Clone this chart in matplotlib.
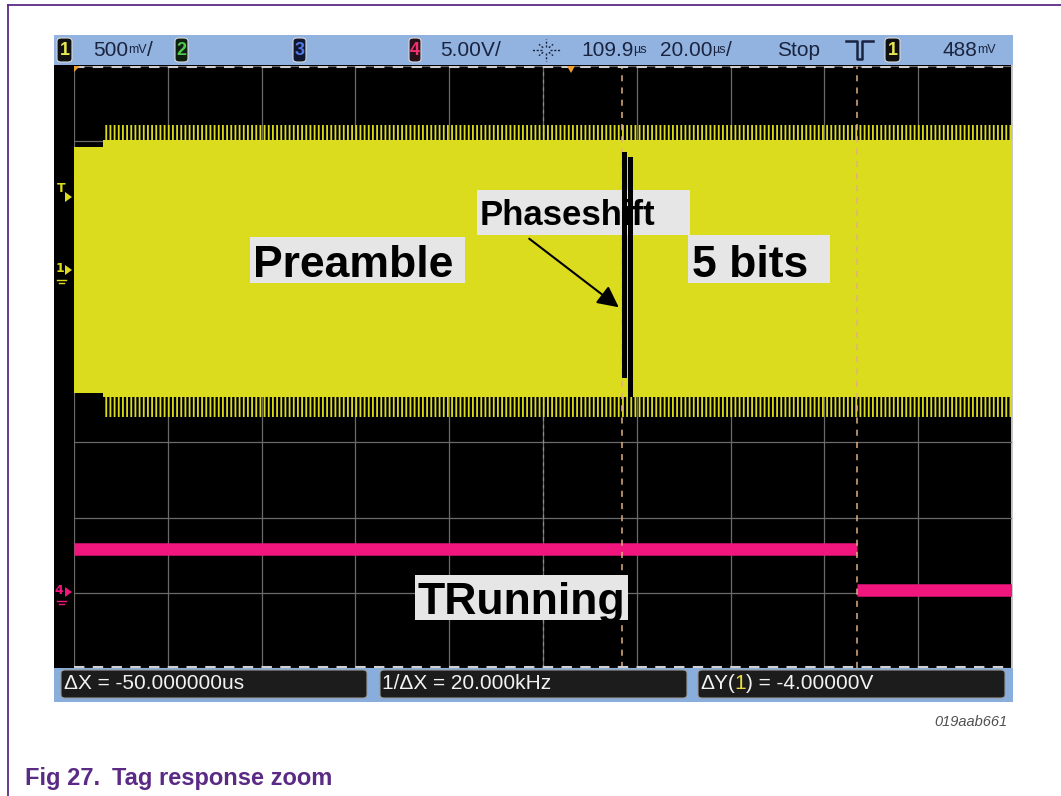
import math
import matplotlib
matplotlib.use("Agg")
import matplotlib.pyplot as plt
from matplotlib.patches import Rectangle, FancyBboxPatch, FancyArrowPatch, Polygon
from matplotlib.lines import Line2D
from matplotlib.text import Annotation

# ---------------- data ----------------
# time in microseconds from the left edge of the graticule (20 us/div, 10 div)
t_ch1 = [0.0, 6.2, 6.2, 200.0]
ch1_core_top = [0.817, 0.817, 0.864, 0.864]      # V
ch1_core_bot = [-0.816, -0.816, -0.845, -0.845]  # V
ch1_spike_top = [0.817, 0.817, 0.963, 0.963]     # V
ch1_spike_bot = [-0.816, -0.816, -0.977, -0.977]  # V

ch4_seg_start = [0.0, 167.0]    # us
ch4_seg_end = [167.0, 200.0]    # us
ch4_level = [2.86, 0.13]        # V

cursor_times = [116.8, 166.9]   # us

top_values = ["500", "5.00", "109.9", "20.00", "Stop", "488"]
top_units = ["mV", "V", "µs", "µs", "", "mV"]
top_slash = ["/", "/", "", "/", "", ""]
bottom_labels = ["ΔX = -50.000000us", "1/ΔX = 20.000kHz"]
annot_labels = ["Preamble", "Phaseshift", "5 bits", "TRunning"]

# ---------------- layout ----------------
W, H = 1061, 796
fig = plt.figure(figsize=(W / 100, H / 100), dpi=100)
fig.patch.set_facecolor("white")
plt.rcParams["hatch.linewidth"] = 1.3

YEL = "#dcdc1e"
PINK = "#f0167e"
GRID = "#6a6a6a"
BARBLUE = "#92b3df"
NAVY = "#1a2440"
PURPLE = "#5a2a85"

CH1_OFF, CH1_SCALE = 5.29, 0.5
CH4_OFF, CH4_SCALE = 1.01, 5.0


def fx(px):
    return px / W


def fy(py):
    return 1 - py / H


def frect(x0, y0, x1, y1, **kw):
    r = Rectangle((fx(x0), fy(y1)), (x1 - x0) / W, (y1 - y0) / H,
                  transform=fig.transFigure, **kw)
    fig.add_artist(r)
    return r


def fbox(x0, y0, x1, y1, **kw):
    r = FancyBboxPatch((fx(x0), fy(y1)), (x1 - x0) / W, (y1 - y0) / H,
                       boxstyle="round,pad=0,rounding_size=0.004",
                       transform=fig.transFigure, **kw)
    fig.add_artist(r)
    return r


def ftext(x, y, s, **kw):
    return fig.text(fx(x), fy(y), s, **kw)


def fline(xs, ys, **kw):
    ln = Line2D([fx(x) for x in xs], [fy(y) for y in ys],
                transform=fig.transFigure, **kw)
    fig.add_artist(ln)
    return ln


def chain(prev, s, **kw):
    a = Annotation(s, xy=(1, 0.5), xycoords=prev, va="center", ha="left", **kw)
    fig.add_artist(a)
    return a


# outer purple frame
fline([8, 8], [5, 796], color=PURPLE, lw=1.3, zorder=5)
fline([8, 1061], [5, 5], color=PURPLE, lw=1.3, zorder=5)

# scope screen background, top bar and bottom bar
frect(54, 65, 1013, 668, facecolor="black", edgecolor="none", zorder=-2)
frect(54, 35, 1013, 65, facecolor=BARBLUE, edgecolor="none", zorder=-2)
frect(54, 668, 1013, 702, facecolor="#8aaedb", edgecolor="none", zorder=-2)
frect(1011, 65, 1013, 668, facecolor="#c8c8c8", edgecolor="none", zorder=-1)

# ---------------- graticule axes ----------------
ax = fig.add_axes([fx(74), fy(668), 938 / W, 602 / H])
ax.set_facecolor("black")
ax.set_xlim(0, 200)
ax.set_ylim(0, 8)
ax.axis("off")

for i in range(11):
    ax.axvline(i * 20, color=GRID, lw=0.9, zorder=1)
for j in range(9):
    ax.axhline(j, color=GRID, lw=0.9, zorder=1)
# center axes (dashed look)
ax.axvline(100, color="#8a8a8a", lw=0.9, ls=(0, (3, 3)), zorder=1.2)
ax.axhline(4, color="#8a8a8a", lw=0.9, ls=(0, (3, 3)), zorder=1.2)
# dashed top/bottom edges
ax.axhline(7.985, color="#d0d0d0", lw=1.5, ls=(0, (5, 4)), zorder=6)
ax.axhline(0.015, color="#d0d0d0", lw=1.5, ls=(0, (5, 4)), zorder=6)


def c1(vals):
    return [CH1_OFF + v / CH1_SCALE for v in vals]


def c4(v):
    return CH4_OFF + v / CH4_SCALE


# channel 1 (yellow) envelope with dense carrier fringe
ax.fill_between(t_ch1, c1(ch1_core_bot), c1(ch1_core_top), color=YEL, lw=0, zorder=3)
ax.fill_between(t_ch1, c1(ch1_core_top), c1(ch1_spike_top), facecolor="none",
                edgecolor=YEL, hatch="||||", lw=0, zorder=3)
ax.fill_between(t_ch1, c1(ch1_spike_bot), c1(ch1_core_bot), facecolor="none",
                edgecolor=YEL, hatch="||||", lw=0, zorder=3)

# channel 4 (pink)
ax.hlines([c4(v) for v in ch4_level], ch4_seg_start, ch4_seg_end,
          color=PINK, lw=9, zorder=3, capstyle="butt")

# cursors
for tc in cursor_times:
    ax.axvline(tc, color="#e0b080", lw=1.1, ls=(0, (4, 4)), zorder=4)

# trigger time markers (orange) at top
fig.add_artist(Polygon([[fx(567), fy(66)], [fx(575), fy(66)], [fx(571), fy(73)]],
                       closed=True, transform=fig.transFigure,
                       facecolor="#f0a030", edgecolor="none", zorder=7))
fig.add_artist(Polygon([[fx(74), fy(66)], [fx(80), fy(66)], [fx(74), fy(72)]],
                       closed=True, transform=fig.transFigure,
                       facecolor="#f0a030", edgecolor="none", zorder=7))

# ---------------- top status bar ----------------
FONT = "Liberation Sans"
big = dict(fontsize=15, color=NAVY, family=FONT, zorder=8)
small = dict(fontsize=9, color=NAVY, family=FONT, zorder=8)


def chan_box(x0, x1, digit, dcol, face="#101010"):
    fbox(x0, 38, x1, 62, facecolor=face, edgecolor="#d8d8d8", lw=0.8, zorder=7)
    ftext((x0 + x1) / 2, 50.5, digit, fontsize=13, color=dcol, family=FONT,
          ha="center", va="center", fontweight="bold", zorder=8)


chan_box(57, 72, "1", "#e8e850")
chan_box(175, 188, "2", "#50c850", face="#102010")
chan_box(293, 306, "3", "#5078e8", face="#101830")
chan_box(409, 421, "4", "#f03070", face="#281018")
chan_box(885, 900, "1", "#e8e850")

top_x = [93, 440, 581, 660, 777, 942]
for x, val, unit, sl in zip(top_x, top_values, top_units, top_slash):
    t = ftext(x, 50, val, va="center", ha="left", **big)
    if unit == "V":
        t = chain(t, unit, **big)
    elif unit:
        t = chain(t, unit, **small)
    if sl:
        chain(t, sl, **big)

# trigger "sun" icon
cx, cy = 546, 50
for k in range(8):
    a = k * math.pi / 4
    r0, r1 = 4, (14 if k % 2 == 0 else 10)
    fline([cx + r0 * math.cos(a), cx + r1 * math.cos(a)],
          [cy + r0 * math.sin(a) * 0.8, cy + r1 * math.sin(a) * 0.8],
          color=NAVY, lw=1.0, ls=(0, (1.5, 1.2)), zorder=8)

# trigger edge symbol
fline([846, 857, 857, 862, 862, 873], [41, 41, 59, 59, 41, 41], color=NAVY, lw=1.8, zorder=8)

# left-side channel markers
mk = dict(fontsize=9, fontweight="bold", ha="center", va="center", zorder=8)
ftext(61, 189, "T", color=YEL, **mk)
fig.add_artist(Polygon([[fx(65), fy(192)], [fx(65), fy(202)], [fx(72), fy(197)]],
                       closed=True, transform=fig.transFigure, facecolor=YEL,
                       edgecolor="none", zorder=8))
ftext(60, 268, "1", color=YEL, **mk)
fig.add_artist(Polygon([[fx(65), fy(265)], [fx(65), fy(275)], [fx(72), fy(270)]],
                       closed=True, transform=fig.transFigure, facecolor=YEL,
                       edgecolor="none", zorder=8))
fline([57, 66], [280, 280], color=YEL, lw=1, zorder=8)
fline([59, 64], [283, 283], color=YEL, lw=1, zorder=8)
ftext(59, 590, "4", color=PINK, **mk)
fig.add_artist(Polygon([[fx(65), fy(587)], [fx(65), fy(597)], [fx(72), fy(592)]],
                       closed=True, transform=fig.transFigure, facecolor=PINK,
                       edgecolor="none", zorder=8))
fline([57, 66], [601, 601], color=PINK, lw=1, zorder=8)
fline([59, 64], [604, 604], color=PINK, lw=1, zorder=8)

# ---------------- bottom measurement bar ----------------
for x0, x1 in [(61, 367), (380, 687), (698, 1005)]:
    fbox(x0, 670, x1, 698, facecolor="#1c1c1c", edgecolor="#9a9a9a", lw=0.8, zorder=7)
bt = dict(fontsize=15, color="#f2f2f2", family=FONT, va="baseline",
          ha="left", zorder=8)
ftext(64, 689, bottom_labels[0], **bt)
ftext(382, 689, bottom_labels[1], **bt)
t1 = ftext(700, 689, "ΔY(", **bt)
a1 = Annotation("1", xy=(1, 0), xycoords=t1, va="bottom", ha="left",
                fontsize=15, color="#e8e040", family=FONT, zorder=8)
fig.add_artist(a1)
a2 = Annotation(") = -4.00000V", xy=(1, 0), xycoords=a1, va="bottom", ha="left",
                fontsize=15, color="#f2f2f2", family=FONT, zorder=8)
fig.add_artist(a2)

# figure id and caption
ftext(1007, 726, "019aab661", fontsize=10.5, style="italic", color="#505050",
      family=FONT, ha="right", va="baseline")
cap = dict(fontsize=17, fontweight="bold", color=PURPLE, family=FONT,
           va="baseline", ha="left")
ftext(25, 785, "Fig 27.", **cap)
ftext(112, 785, "Tag response zoom", **cap)

# ---------------- annotations on the trace ----------------
BOXC = "#e6e6e6"
lab = dict(fontweight="bold", color="black", family=FONT,
           va="baseline", ha="left", zorder=11)
frect(250, 237, 465, 283, facecolor=BOXC, edgecolor="none", zorder=10)
ftext(253, 277, annot_labels[0], fontsize=32, **lab)
frect(477, 190, 690, 235, facecolor=BOXC, edgecolor="none", zorder=10)
ftext(480, 225, annot_labels[1], fontsize=25, **lab)
frect(688, 235, 830, 283, facecolor=BOXC, edgecolor="none", zorder=10)
ftext(692, 277, annot_labels[2], fontsize=32, **lab)
frect(415, 575, 628, 620, facecolor=BOXC, edgecolor="none", zorder=10)
ftext(417, 614, annot_labels[3], fontsize=32, **lab)

# phase-shift bars
frect(622, 152, 627, 378, facecolor="black", edgecolor="none", zorder=12)
frect(628, 157, 633, 397, facecolor="black", edgecolor="none", zorder=12)

# arrow
arr = FancyArrowPatch((fx(527), fy(237)), (fx(621), fy(309)),
                      transform=fig.transFigure, arrowstyle="-|>,head_length=8,head_width=4",
                      mutation_scale=1.6, color="black", lw=1.5, zorder=12)
fig.add_artist(arr)

fig.savefig("out.png", dpi=100, facecolor="white")
